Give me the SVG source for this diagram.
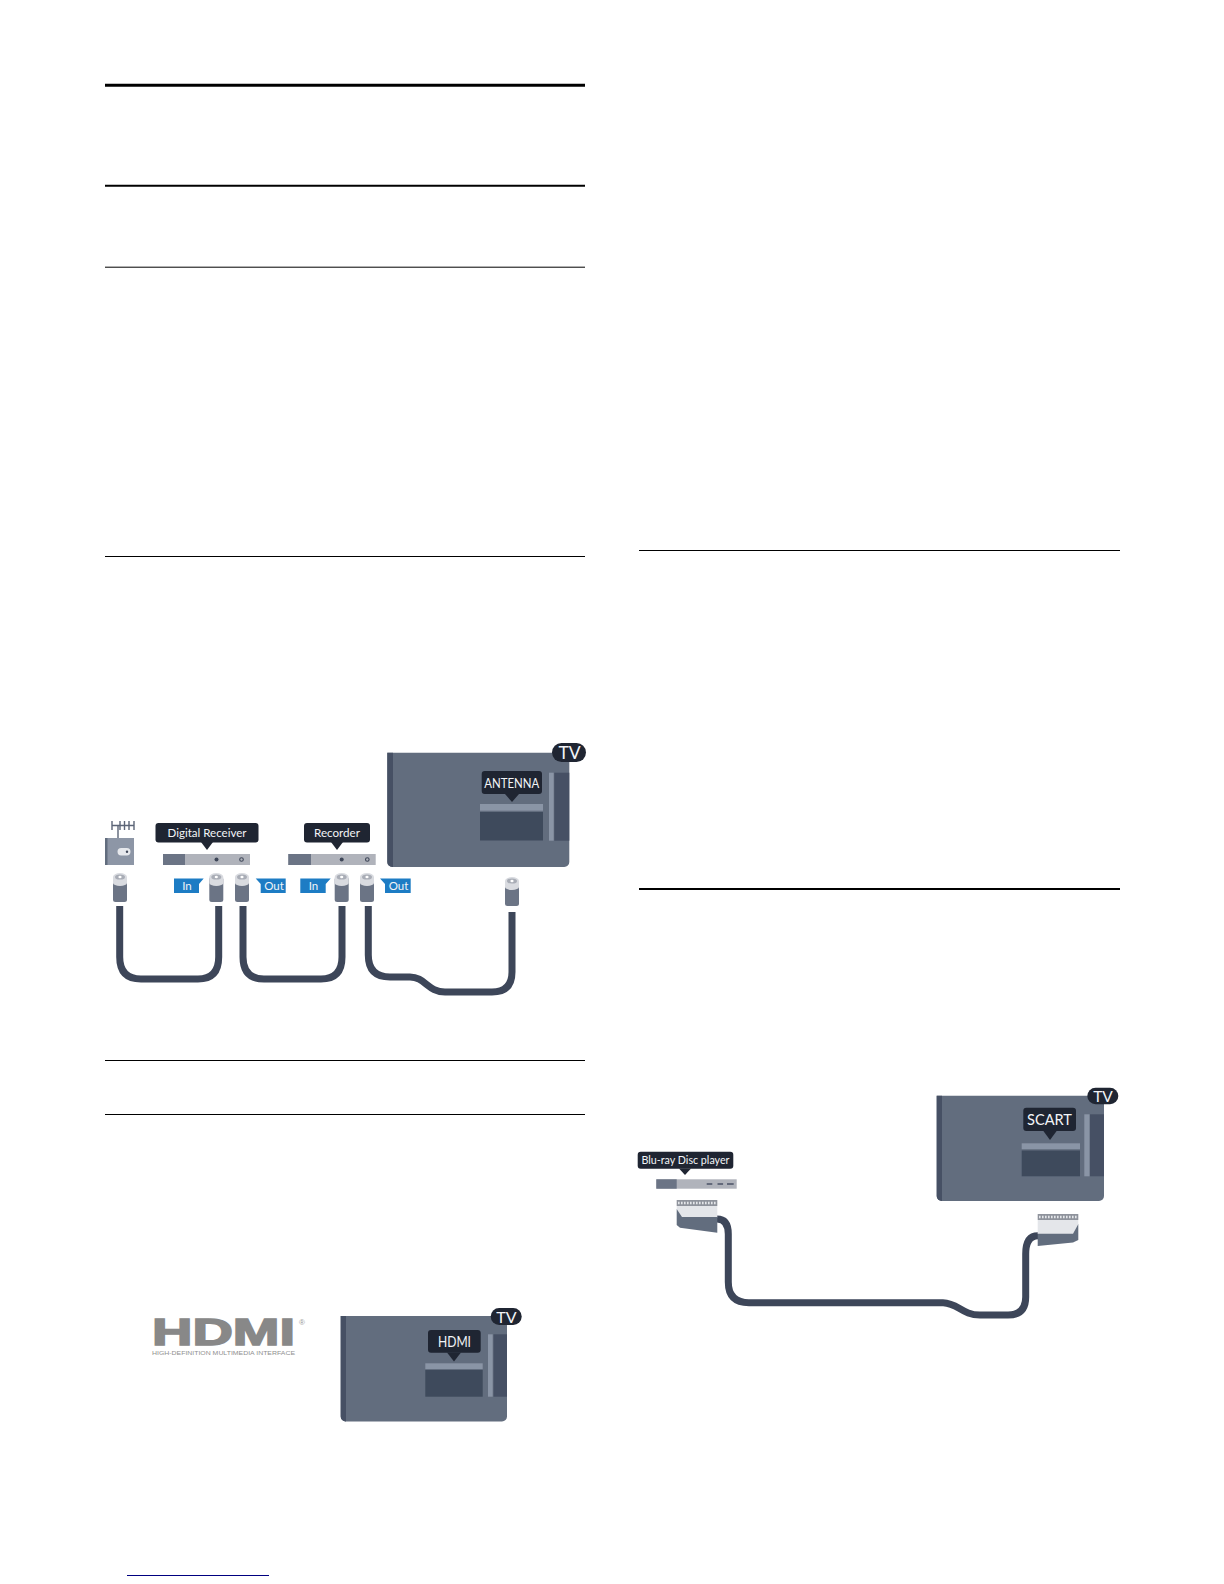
<svg xmlns="http://www.w3.org/2000/svg" width="1224" height="1584" viewBox="0 0 1224 1584">
<style>
text{font-family:Lato,"Liberation Sans",Arial,sans-serif;fill:#f2f4f7;text-anchor:middle}
.rule{stroke:#000;fill:none}
.bub{fill:#1f2532}
.tv{fill:#626d7e}
.tvd{fill:#465064}
.port{fill:#3e4a5c}
.lt{fill:#8a95a6}
.bar{fill:#b0b3bb}
.bard{fill:#6b7485}
.cap{fill:#d9dbe0}
.capt{fill:#a9adb6}
.tag{fill:#1d7cc4}
.dot{fill:#3e4658}
.cable{fill:none;stroke:#3d4659;stroke-width:7;stroke-linecap:butt}
.pins{fill:#8f939c}
.pinz{stroke:#e4e6ea;stroke-width:2.4;stroke-dasharray:1.6 1.4;fill:none}
.pl{fill:#e4e6ea}
.pd{fill:#626d7e}
</style>
<defs>
<g id="coax">
<rect x="-7" y="3" width="14" height="25" rx="2.5" class="bard"/>
<path d="M-7 3a7 4 0 0 1 14 0v6a7 3 0 0 1-14 0z" class="cap"/>
<ellipse cx="0" cy="3" rx="5" ry="2.6" class="capt"/>
<ellipse cx="0" cy="3" rx="1.6" ry="1.2" fill="#fff"/>
</g>
</defs>

<g id="rules">
<line class="rule" x1="105" x2="585" y1="85.3" y2="85.3" stroke-width="3"/>
<line class="rule" x1="105" x2="585" y1="185.7" y2="185.7" stroke-width="2"/>
<line class="rule" x1="105" x2="585" y1="267.2" y2="267.2" stroke-width="1"/>
<line class="rule" x1="105" x2="585" y1="556.5" y2="556.5" stroke-width="1"/>
<line class="rule" x1="105" x2="585" y1="1060.5" y2="1060.5" stroke-width="1"/>
<line class="rule" x1="105" x2="585" y1="1114.5" y2="1114.5" stroke-width="1"/>
<line class="rule" x1="639" x2="1120" y1="550.5" y2="550.5" stroke-width="1"/>
<line class="rule" x1="639" x2="1120" y1="889" y2="889" stroke-width="2"/>
<line x1="127" x2="269" y1="1575.5" y2="1575.5" stroke="#000080" stroke-width="1"/>
</g>

<g id="connectors">
<path class="cable" d="M119.7 906V957Q119.7 979 141 979H198Q218.7 979 218.7 957V906"/>
<path class="cable" d="M243 906V957Q243 979 264 979H321Q342 979 342 957V906"/>
<path class="cable" d="M368.3 906V955Q368.3 977 390 977H410C425 977 428 992 445 992H492Q512 992 512 972V912"/>
<path class="cable" d="M717 1219Q728.3 1219 728.3 1234V1282Q728.3 1302.7 749 1302.7H943C958 1303 962 1315 980 1315H1008Q1025.7 1315 1025.7 1297V1254Q1025.7 1235.7 1038 1235.7"/>
</g>

<g id="antenna">
<path d="M112 821v9M120 821v9M124.5 821v9M129 821v9M134 821v9M112 825.5h22M118 825.5V838" stroke="#5c6577" stroke-width="1.4" fill="none"/>
<rect x="105" y="838" width="29" height="27" fill="#8d96a6"/>
<rect x="105" y="838" width="2.5" height="27" class="tv"/>
<rect x="117.5" y="848" width="13" height="7.5" rx="3.7" fill="#e6e8ec"/>
<circle cx="127" cy="851.7" r="1.2" fill="#3e4658"/>
<use href="#coax" x="120" y="874"/>
</g>

<g id="digital-receiver">
<rect x="155.5" y="823" width="103" height="19.5" rx="3" class="bub"/>
<path d="M201 842h12l-6 8z" class="bub"/>
<text x="207" y="837" font-size="12" textLength="79" lengthAdjust="spacingAndGlyphs">Digital Receiver</text>
<rect x="163" y="854" width="87" height="11" class="bar"/>
<rect x="163" y="854" width="22" height="11" class="bard"/>
<circle cx="216.5" cy="859.5" r="2" class="dot"/>
<circle cx="241.5" cy="859.5" r="1.8" fill="none" stroke="#3e4658" stroke-width="1.1"/>
<use href="#coax" x="216.3" y="874"/>
<use href="#coax" x="242" y="874"/>
<path d="M174 878.5H203.7L199 884V893H174z" class="tag"/>
<text x="187" y="890" font-size="11.5">In</text>
<path d="M255.7 878.5H285.7V893H260.7V884z" class="tag"/>
<text x="274" y="890" font-size="11.5">Out</text>
</g>

<g id="recorder">
<rect x="304" y="823" width="66" height="19.5" rx="3" class="bub"/>
<path d="M331 842h12l-6 8z" class="bub"/>
<text x="337" y="837" font-size="12" textLength="46" lengthAdjust="spacingAndGlyphs">Recorder</text>
<rect x="288.3" y="854" width="87.4" height="11" class="bar"/>
<rect x="288.3" y="854" width="22.7" height="11" class="bard"/>
<circle cx="341.7" cy="859.5" r="2" class="dot"/>
<circle cx="367.3" cy="859.5" r="1.8" fill="none" stroke="#3e4658" stroke-width="1.1"/>
<use href="#coax" x="341.7" y="874"/>
<use href="#coax" x="367" y="874"/>
<path d="M300.3 878.5H330.7L325.7 884V893H300.3z" class="tag"/>
<text x="313.5" y="890" font-size="11.5">In</text>
<path d="M380 878.5H410.7V893H385V884z" class="tag"/>
<text x="398.5" y="890" font-size="11.5">Out</text>
</g>

<g id="tv-antenna">
<path d="M387.3 752.7H569.3V862a5 5 0 0 1-5 5H392.3a5 5 0 0 1-5-5z" class="tv"/>
<path d="M387.3 752.7H393V867H392.3a5 5 0 0 1-5-5z" class="tvd"/>
<rect x="480" y="804" width="63" height="6.7" class="lt"/>
<rect x="480" y="812" width="63" height="28.5" class="port"/>
<rect x="549" y="772.7" width="4.7" height="68" class="lt"/>
<rect x="554.3" y="772.7" width="15" height="68" class="tvd"/>
<rect x="481.7" y="771" width="60.3" height="23" rx="3" class="bub"/>
<path d="M505 794h14l-7 8z" class="bub"/>
<text x="511.8" y="788" font-size="13.5" textLength="55" lengthAdjust="spacingAndGlyphs">ANTENNA</text>
<rect x="552" y="743" width="34" height="19" rx="9.5" class="bub"/>
<text x="569.5" y="759" font-size="17.5">TV</text>
<use href="#coax" x="512" y="878"/>
</g>

<g id="hdmi-logo">
<text x="152" y="1345" font-size="37.5" font-weight="700" textLength="143" lengthAdjust="spacingAndGlyphs" style="font-family:'Liberation Sans',Arial,sans-serif;fill:#888;text-anchor:start;stroke:#888;stroke-width:1.6">HDMI</text>
<text x="152" y="1355" font-size="5.4" textLength="143" lengthAdjust="spacingAndGlyphs" style="font-family:'Liberation Sans',Arial,sans-serif;fill:#8f8f8f;text-anchor:start">HIGH-DEFINITION MULTIMEDIA INTERFACE</text>
<text x="302" y="1325" font-size="8" style="font-family:'Liberation Sans',Arial,sans-serif;fill:#999">®</text>
</g>

<g id="tv-hdmi">
<path d="M340.7 1316H507V1416.5a5 5 0 0 1-5 5H345.7a5 5 0 0 1-5-5z" class="tv"/>
<path d="M340.7 1316H346V1421.5H345.7a5 5 0 0 1-5-5z" class="tvd"/>
<rect x="425.3" y="1363.3" width="57.4" height="5.7" class="lt"/>
<rect x="425.3" y="1370" width="57.4" height="26.7" class="port"/>
<rect x="488" y="1334.3" width="4.7" height="62.4" class="lt"/>
<rect x="493.5" y="1334.3" width="13.5" height="62.4" class="tvd"/>
<rect x="428" y="1330" width="52.7" height="22.7" rx="3" class="bub"/>
<path d="M447 1352.5h14l-7 9z" class="bub"/>
<text x="454.5" y="1347" font-size="14.5" textLength="33" lengthAdjust="spacingAndGlyphs">HDMI</text>
<rect x="490.7" y="1308" width="31" height="17" rx="8.5" class="bub"/>
<text x="506.5" y="1322.5" font-size="16">TV</text>
</g>

<g id="blu-ray-player">
<rect x="637.7" y="1151.7" width="95.6" height="17" rx="3" class="bub"/>
<path d="M679 1168.5h12l-6 6.5z" class="bub"/>
<text x="685.5" y="1164.3" font-size="11.5" textLength="88" lengthAdjust="spacingAndGlyphs">Blu-ray Disc player</text>
<rect x="656.3" y="1179.3" width="80.4" height="9.4" class="bar"/>
<rect x="656.3" y="1179.3" width="20.4" height="9.4" class="bard"/>
<path d="M706.7 1184h5.6M717.5 1184h5.6M727 1184h6.7" stroke="#4a5266" stroke-width="1.6" fill="none"/>
<rect x="676.7" y="1200" width="40.6" height="6" class="pins"/>
<path d="M678 1203H716" class="pinz"/>
<path d="M676.7 1206H717.3V1217.5H682L676.7 1209z" class="pl"/>
<path d="M676.7 1209L682 1217H717.3V1232.7L680 1227.7 676.7 1225z" class="pd"/>
</g>

<g id="tv-scart">
<path d="M936.7 1095.7H1104V1196a5 5 0 0 1-5 5H941.7a5 5 0 0 1-5-5z" class="tv"/>
<path d="M936.7 1095.7H942V1201H941.7a5 5 0 0 1-5-5z" class="tvd"/>
<rect x="1021.7" y="1143.3" width="58.3" height="5.9" class="lt"/>
<rect x="1021.7" y="1150.5" width="58.3" height="25.8" class="port"/>
<rect x="1084.3" y="1114.3" width="5.2" height="62" class="lt"/>
<rect x="1090" y="1114.3" width="14" height="62" class="tvd"/>
<rect x="1023.3" y="1107.7" width="52.7" height="23.3" rx="3" class="bub"/>
<path d="M1043 1130.5h14l-7 9.5z" class="bub"/>
<text x="1049.5" y="1125" font-size="15" textLength="45" lengthAdjust="spacingAndGlyphs">SCART</text>
<rect x="1087.3" y="1087.7" width="31" height="16.6" rx="8.3" class="bub"/>
<text x="1103" y="1101.5" font-size="15.5">TV</text>
<rect x="1037.7" y="1214" width="40.6" height="6" class="pins"/>
<path d="M1039 1217H1077" class="pinz"/>
<path d="M1037.7 1220H1078.3V1224L1073 1234H1037.7z" class="pl"/>
<path d="M1037.7 1233.7H1073L1078.3 1224V1240L1073 1242.5 1037.7 1246z" class="pd"/>
</g>
</svg>
